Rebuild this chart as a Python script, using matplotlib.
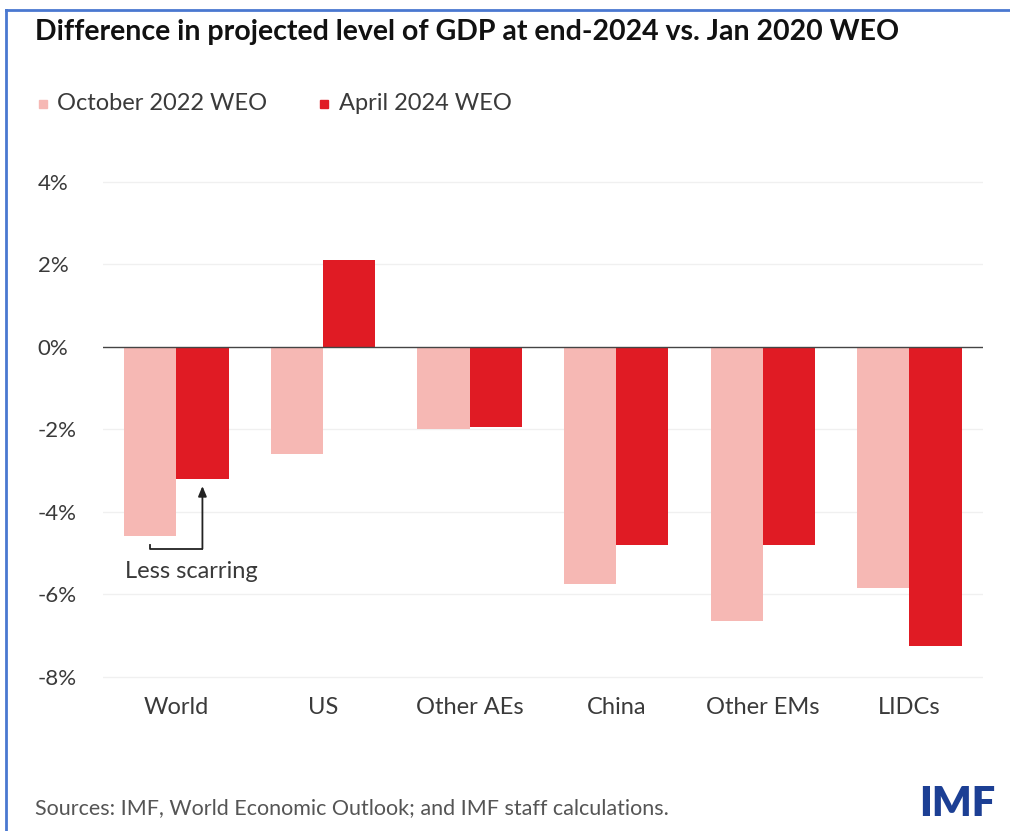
import numpy as np
import matplotlib
matplotlib.use("Agg")
import matplotlib.pyplot as plt
from matplotlib.patches import Rectangle

plt.rcParams['font.family'] = ['Lato', 'DejaVu Sans']

# GDP level gap vs. Jan 2020 WEO, percent
categories = ["World", "US", "Other AEs", "China", "Other EMs", "LIDCs"]
oct_2022 = [-4.6, -2.6, -2.0, -5.75, -6.65, -5.85]
apr_2024 = [-3.2, 2.1, -1.95, -4.8, -4.8, -7.25]
y_ticks = [4, 2, 0, -2, -4, -6, -8]
y_labels = ["4%", "2%", "0%", "-2%", "-4%", "-6%", "-8%"]

light = "#f6b8b4"
dark = "#e01b24"
text_grey = "#3a3a3a"

fig = plt.figure(figsize=(10.10, 8.31), dpi=100)
ax = fig.add_axes([0.102, 0.171, 0.871, 0.625])

x = np.arange(len(categories))
w = 0.356
ax.bar(x - w / 2, oct_2022, width=w, color=light, zorder=2)
ax.bar(x + w / 2, apr_2024, width=w, color=dark, zorder=2)

for t in y_ticks:
    if t != 0:
        ax.axhline(t, color="#f0f0f0", lw=1, zorder=0)
ax.axhline(0, color="#444444", lw=1, zorder=3)

ax.set_xlim(-0.5, 5.5)
ax.set_ylim(-8.3, 4.3)
ax.set_xticks(x)
ax.set_xticklabels(categories, fontsize=17, color=text_grey)
ax.set_yticks(y_ticks)
ax.set_yticklabels(y_labels, fontsize=16, color=text_grey)
for lbl in ax.get_yticklabels():
    lbl.set_ha("left")
ax.tick_params(axis="y", length=0, pad=47)
ax.tick_params(axis="x", length=0, pad=6)
for s in ax.spines.values():
    s.set_visible(False)

# "Less scarring" elbow arrow from light World bar to dark World bar
ax.plot([-w / 2, -w / 2, w / 2], [-4.82, -4.9, -4.9], color="#222222", lw=1.3, zorder=4)
ax.annotate("", xy=(w / 2, -3.38), xytext=(w / 2, -4.9),
            arrowprops=dict(arrowstyle="-|>,head_length=0.6,head_width=0.25",
                            color="#222222", lw=1.3, shrinkA=0, shrinkB=0))
ax.text(-0.35, -5.45, "Less scarring", fontsize=17, color=text_grey, ha="left", va="center")

fig.text(0.035, 0.962, "Difference in projected level of GDP at end-2024 vs. Jan 2020 WEO",
         fontsize=20.5, fontweight="bold", color="#111111", va="center")

# legend drawn by hand: small squares plus labels
fig.patches.append(Rectangle((0.039, 0.870), 0.008, 0.0095, transform=fig.transFigure,
                             color=light))
fig.text(0.056, 0.8755, "October 2022 WEO", fontsize=17, color=text_grey, va="center")
fig.patches.append(Rectangle((0.317, 0.870), 0.008, 0.0095, transform=fig.transFigure,
                             color=dark))
fig.text(0.336, 0.8755, "April 2024 WEO", fontsize=17, color=text_grey, va="center")

fig.text(0.035, 0.027, "Sources: IMF, World Economic Outlook; and IMF staff calculations.",
         fontsize=15.5, color="#555555", va="center")
fig.text(0.986, 0.032, "IMF", fontsize=30, fontweight="heavy", color="#1c3f94",
         ha="right", va="center")

# frame edges on the left and top
fig.add_artist(plt.Line2D([0.006, 0.006], [0, 0.988], color="#4a78d0", lw=2,
                          transform=fig.transFigure))
fig.add_artist(plt.Line2D([0.006, 1.0], [0.988, 0.988], color="#4a78d0", lw=2,
                          transform=fig.transFigure))

fig.savefig("out.png", dpi=100, facecolor="white")
